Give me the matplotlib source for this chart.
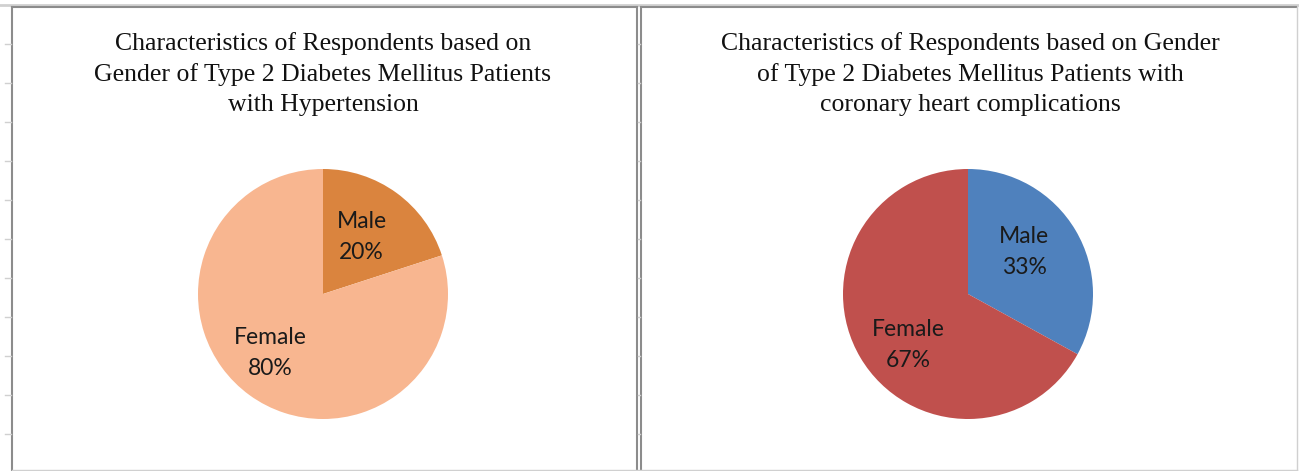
import numpy as np
import matplotlib.pyplot as plt
from matplotlib.lines import Line2D

# data
genders = ['Male', 'Female']
hyper_pct = [20, 80]
coronary_pct = [33, 67]

titles = ['Characteristics of Respondents based on\nGender of Type 2 Diabetes Mellitus Patients\nwith Hypertension',
          'Characteristics of Respondents based on Gender\nof Type 2 Diabetes Mellitus Patients with\ncoronary heart complications']
hyper_colors = ['#DA843E', '#F8B690']
coronary_colors = ['#4F81BD', '#C0504D']

W, H = 1299, 471
fig = plt.figure(figsize=(W / 100, H / 100), dpi=100)


def px(x, y):
    return x / W, 1 - y / H


def line(x0, y0, x1, y1, color='#8c8c8c', lw=1.5):
    a = px(x0, y0)
    b = px(x1, y1)
    fig.add_artist(Line2D([a[0], b[0]], [a[1], b[1]], color=color, lw=lw,
                          transform=fig.transFigure))


# spreadsheet frame
line(0, 5, W, 5, '#d0d0d0', 2)
line(12, 7, 637, 7, '#8c8c8c', 1.5)
line(641, 7, 1296, 7, '#8c8c8c', 1.5)
line(12, 7, 12, 470, '#8c8c8c', 1.5)
line(637, 7, 637, 470, '#8c8c8c', 1.5)
line(641, 7, 641, 470, '#8c8c8c', 1.5)
line(1297, 7, 1297, 470, '#d0d0d0', 1)
line(12, 470, 1297, 470, '#d0d0d0', 1)
for ty in range(44, 460, 39):
    line(5, ty, 11, ty, '#d0d0d0', 1)
    line(638, ty, 640, ty, '#d0d0d0', 1)

# (label distance, angle shift in degrees) for each wedge label
panels = [(323, 294, hyper_pct, hyper_colors, titles[0], 323, [(0.55, 2), (0.635, -6)]),
          (968, 294, coronary_pct, coronary_colors, titles[1], 970, [(0.56, 6), (0.63, 10)])]

for cx, cy, vals, cols, title, tx, place in panels:
    r = 125
    x0, y1 = px(cx - r, cy + r)
    ax = fig.add_axes([x0, y1, 2 * r / W, 2 * r / H])
    wedges, texts = ax.pie(vals, colors=cols, startangle=90, counterclock=False,
                           labels=[g + '\n' + str(v) + '%' for g, v in zip(genders, vals)],
                           labeldistance=0.5,
                           textprops=dict(fontsize=16.5, family='Lato', color='#1a1a1a',
                                          linespacing=1.6))
    for w, t, (d, shift) in zip(wedges, texts, place):
        mid = np.deg2rad((w.theta1 + w.theta2) / 2 + shift)
        t.set_position((d * np.cos(mid), d * np.sin(mid)))
        t.set_ha('center')
        t.set_va('center')
    ax.set_xlim(-1, 1)
    ax.set_ylim(-1, 1)
    ax.axis('off')
    fx, fy = px(tx, 74)
    fig.text(fx, fy, title, ha='center', va='center', fontsize=18.5,
             family='Liberation Serif', linespacing=1.45, color='#111111')

fig.savefig('out.png', dpi=100)
